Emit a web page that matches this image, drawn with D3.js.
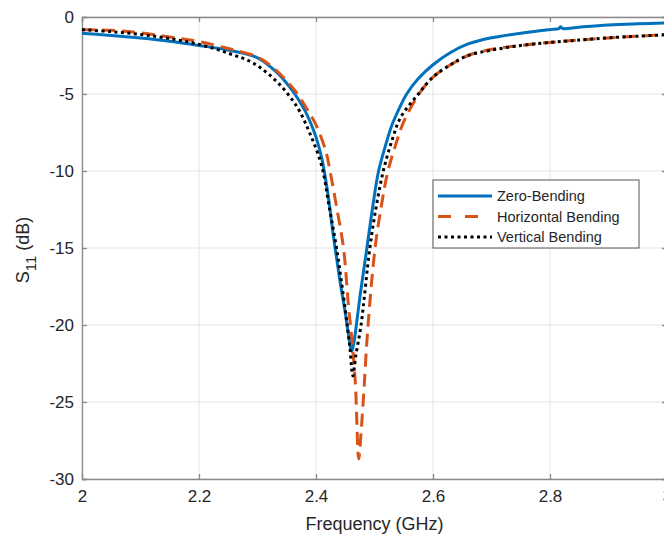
<!DOCTYPE html>
<html>
<head>
<meta charset="utf-8">
<script src="https://cdn.jsdelivr.net/npm/d3@7"></script>
<style>
  body { margin: 0; background: #fff; }
  svg { display: block; font-family: "Liberation Sans", Arial, sans-serif; }
</style>
</head>
<body>
<div id="chart"></div>
<script>
// data (frequency in GHz, S11 in dB)
var zeroF = [2.00, 2.05, 2.10, 2.15, 2.20, 2.25, 2.30, 2.333, 2.36, 2.38, 2.39, 2.40, 2.41, 2.42, 2.43, 2.44, 2.45, 2.455, 2.461,
  2.465, 2.468, 2.475, 2.487, 2.497, 2.507, 2.52, 2.53, 2.544, 2.555, 2.575, 2.60, 2.63, 2.66, 2.70, 2.75, 2.80, 2.815, 2.818, 2.822, 2.85, 2.90, 2.95, 3.00];
var zeroS = [-1.05, -1.2, -1.37, -1.58, -1.85, -2.15, -2.65, -3.6, -4.8, -6.0, -6.8, -7.8, -9.2, -11.4, -14.3, -16.9, -19.2, -20.5, -21.7,
  -21.1, -20.3, -18.2, -15.0, -12.3, -10.0, -8.2, -7.0, -5.8, -5.0, -4.0, -3.1, -2.3, -1.75, -1.35, -1.05, -0.82, -0.76, -0.64, -0.75, -0.66, -0.52, -0.44, -0.38];

var horizF = [2.00, 2.05, 2.10, 2.15, 2.20, 2.25, 2.30, 2.33, 2.36, 2.37, 2.385, 2.40, 2.417, 2.424, 2.435, 2.447, 2.456, 2.459, 2.467, 2.473,
  2.477, 2.481, 2.489, 2.501, 2.512, 2.523, 2.537, 2.55, 2.576, 2.60, 2.63, 2.66, 2.70, 2.75, 2.80, 2.85, 2.90, 2.95, 3.00];
var horizS = [-0.82, -0.86, -1.03, -1.3, -1.6, -2.05, -2.6, -3.4, -4.6, -5.1, -6.0, -7.0, -8.75, -10.0, -12.3, -15.0, -19.0, -20.0, -23.6, -28.7,
  -27.0, -24.8, -20.0, -15.0, -12.2, -10.0, -8.2, -6.8, -5.0, -3.9, -3.1, -2.5, -2.1, -1.85, -1.65, -1.5, -1.36, -1.25, -1.15];

var vertF = [2.00, 2.05, 2.10, 2.15, 2.20, 2.25, 2.293, 2.333, 2.367, 2.39, 2.41, 2.422, 2.435, 2.45, 2.458, 2.463,
  2.468, 2.477, 2.492, 2.503, 2.515, 2.53, 2.545, 2.575, 2.60, 2.63, 2.66, 2.70, 2.75, 2.80, 2.85, 2.90, 2.95, 3.00];
var vertS = [-0.82, -0.95, -1.13, -1.4, -1.78, -2.35, -3.0, -4.2, -5.8, -7.6, -9.7, -12.2, -15.0, -19.0, -21.5, -23.3,
  -22.0, -20.0, -15.0, -12.3, -10.0, -8.0, -6.5, -5.0, -3.9, -3.1, -2.5, -2.15, -1.85, -1.65, -1.5, -1.35, -1.25, -1.15];

var xTicks = [2, 2.2, 2.4, 2.6, 2.8, 3];
var yTicks = [0, -5, -10, -15, -20, -25, -30];
var seriesNames = ["Zero-Bending", "Horizontal Bending", "Vertical Bending"];

var W = 664, H = 538;
var plotL = 82, plotR = 667, plotT = 17, plotB = 479;

var svg = d3.select("#chart").append("svg").attr("width", W).attr("height", H);

var x = d3.scaleLinear().domain([2, 3]).range([plotL, plotR]);
var y = d3.scaleLinear().domain([-30, 0]).range([plotB, plotT]);

// grid
svg.append("g").selectAll("line").data(xTicks).enter().append("line")
  .attr("x1", function(d) { return x(d); }).attr("x2", function(d) { return x(d); })
  .attr("y1", plotT).attr("y2", plotB)
  .attr("stroke", "#e5e5e5").attr("stroke-width", 1);
svg.append("g").selectAll("line").data(yTicks).enter().append("line")
  .attr("x1", plotL).attr("x2", plotR)
  .attr("y1", function(d) { return y(d); }).attr("y2", function(d) { return y(d); })
  .attr("stroke", "#e5e5e5").attr("stroke-width", 1);

// axes (MATLAB style, ticks inside), plain hyphen for negatives
var plain = function(d) { return String(d); };
var xAxis = svg.append("g").attr("transform", "translate(0," + plotB + ")")
  .call(d3.axisBottom(x).tickValues(xTicks).tickSize(-5).tickPadding(11).tickFormat(plain));
var xTop = svg.append("g").attr("transform", "translate(0," + plotT + ")")
  .call(d3.axisTop(x).tickValues(xTicks).tickSize(-5).tickFormat(""));
var yAxis = svg.append("g").attr("transform", "translate(" + plotL + ",0)")
  .call(d3.axisLeft(y).tickValues(yTicks).tickSize(-5).tickPadding(8).tickFormat(plain));
var yRight = svg.append("g").attr("transform", "translate(" + plotR + ",0)")
  .call(d3.axisRight(y).tickValues(yTicks).tickSize(-5).tickFormat(""));

[xAxis, xTop, yAxis, yRight].forEach(function(g) {
  g.select(".domain").attr("stroke", "#8a8a8a").attr("stroke-width", 1.3);
  g.selectAll(".tick line").attr("stroke", "#8a8a8a").attr("stroke-width", 1.3);
  g.selectAll(".tick text").attr("fill", "#262626").style("font-size", "17px")
    .style("font-family", "'Liberation Sans', Arial, sans-serif");
});

// curves
var line = d3.line()
  .x(function(d) { return x(d[0]); })
  .y(function(d) { return y(d[1]); })
  .curve(d3.curveCatmullRom.alpha(0.5));

function pairs(f, s) { return f.map(function(v, i) { return [v, s[i]]; }); }

var styles = [
  { color: "#0072BD", width: 3, dash: null },
  { color: "#D95319", width: 3, dash: "13,7" },
  { color: "#000000", width: 3, dash: "3,3.5" }
];
var seriesData = [pairs(zeroF, zeroS), pairs(horizF, horizS), pairs(vertF, vertS)];

seriesData.forEach(function(d, i) {
  svg.append("path").datum(d)
    .attr("d", line)
    .attr("fill", "none")
    .attr("stroke", styles[i].color)
    .attr("stroke-width", styles[i].width)
    .attr("stroke-dasharray", styles[i].dash);
});

// axis labels
svg.append("text")
  .attr("x", (plotL + plotR) / 2).attr("y", 530)
  .attr("text-anchor", "middle")
  .attr("fill", "#262626")
  .style("font-size", "18px")
  .text("Frequency (GHz)");

var yl = svg.append("text")
  .attr("transform", "translate(29," + (y(-15) + 2) + ") rotate(-90)")
  .attr("text-anchor", "middle")
  .attr("fill", "#262626")
  .style("font-size", "18px");
yl.append("tspan").text("S");
yl.append("tspan").attr("dy", 7).style("font-size", "15px").text("11");
yl.append("tspan").attr("dy", -7).text(" (dB)");

// legend
var lg = svg.append("g").attr("transform", "translate(433,180)");
lg.append("rect").attr("width", 206).attr("height", 68)
  .attr("fill", "#fff").attr("stroke", "#555").attr("stroke-width", 1);
seriesNames.forEach(function(name, i) {
  var yy = 16 + i * 20.5;
  lg.append("line").attr("x1", 5).attr("x2", 59).attr("y1", yy).attr("y2", yy)
    .attr("stroke", styles[i].color).attr("stroke-width", styles[i].width)
    .attr("stroke-dasharray", i === 1 ? "13,14" : styles[i].dash);
  lg.append("text").attr("x", 64).attr("y", yy + 5)
    .attr("fill", "#262626").style("font-size", "14.5px").text(name);
});
</script>
</body>
</html>
